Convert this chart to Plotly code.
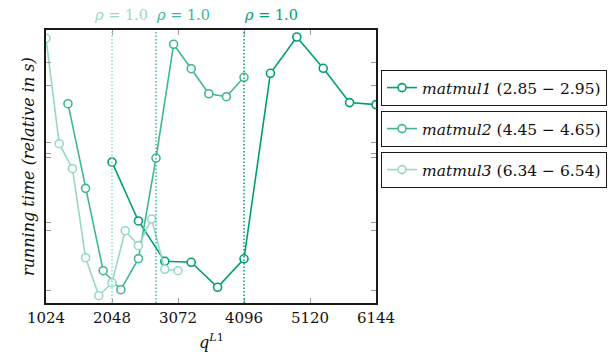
import plotly.graph_objects as go

# ---- data ----
q1 = [2048, 2458, 2867, 3277, 3686, 4096, 4506, 4915, 5325, 5734, 6144]
t1 = [2.9000, 2.8765, 2.8604, 2.8600, 2.8500, 2.8614, 2.9355, 2.9500, 2.9375, 2.9238, 2.9230]

q2 = [1365, 1638, 1911, 2185, 2458, 2731, 3004, 3277, 3550, 3823, 4096]
t2 = [4.6016, 4.5326, 4.4655, 4.4500, 4.4753, 4.5573, 4.6500, 4.6301, 4.6097, 4.6073, 4.6231]

q3 = [1024, 1229, 1434, 1638, 1843, 2048, 2253, 2458, 2662, 2867, 3072]
t3 = [6.5400, 6.4581, 6.4387, 6.3695, 6.3400, 6.3501, 6.3905, 6.3789, 6.3996, 6.3605, 6.3594]

names = ["<i>matmul1</i> (2.85 − 2.95)",
         "<i>matmul2</i> (4.45 − 4.65)",
         "<i>matmul3</i> (6.34 − 6.54)"]
rho_q = [4096, 2731, 2048]          # q where rho reaches 1.0, per series
rho_label = "<i>ρ</i> = 1.0"
x_ticks = [1024, 2048, 3072, 4096, 5120, 6144]

# y ranges of the three stacked (hidden) axes and their tick marks
y_ranges = [[2.84373, 2.95280], [4.43916, 4.66165], [6.33433, 6.54645]]
y_ticks = [[2.8760, 2.9079, 2.9399], [4.4981, 4.5579, 4.6168], [6.3442, 6.4506]]

colors = ["#009E73", "#40B696", "#99D8C6"]
FONT = "DejaVu Serif"

fig = go.Figure()
series = [(q1, t1), (q2, t2), (q3, t3)]
for i, (q, t) in enumerate(series):
    fig.add_trace(go.Scatter(
        x=q, y=t, mode="lines+markers", name=names[i],
        line=dict(color=colors[i], width=1.6),
        marker=dict(symbol="circle", size=8, color="white",
                    line=dict(color=colors[i], width=1.6)),
        yaxis="y" if i == 0 else f"y{i+1}",
        legend="legend" if i == 0 else f"legend{i+1}",
        showlegend=True,
    ))

# vertical dotted rho lines + labels
shifts = [-2, -2, -20]
for i, xq in enumerate(rho_q):
    fig.add_shape(type="line", xref="x", yref="paper", x0=xq, x1=xq, y0=0, y1=1,
                  line=dict(color=colors[i], width=1.5, dash="1.5px,2px"))
    fig.add_annotation(x=xq, y=1.055, xref="x", yref="paper", text=rho_label,
                       showarrow=False, xanchor="left", yanchor="middle",
                       xshift=shifts[i],
                       font=dict(family=FONT, size=14.5, color=colors[i]))

# axis titles
fig.add_annotation(x=-0.088, y=0.5, xref="paper", yref="paper",
                   text="<i>running time (relative in s)</i>", textangle=-90,
                   showarrow=False, font=dict(family=FONT, size=16, color="#111"))
fig.add_annotation(x=0.5, y=-0.14, xref="paper", yref="paper",
                   text="<i>q</i><sup><i>L</i>1</sup>", yanchor="middle",
                   showarrow=False, font=dict(family=FONT, size=16, color="#111"))

axis_line = dict(showline=True, linecolor="#1a1a1a", linewidth=2, showgrid=False,
                 zeroline=False)
fig.update_layout(
    width=614, height=354,
    margin=dict(l=46, r=238, t=30, b=51, autoexpand=False),
    plot_bgcolor="white", paper_bgcolor="white",
    font=dict(family=FONT, size=15, color="#111"),
    xaxis=dict(range=[1024, 6144], tickvals=x_ticks, ticktext=[str(v) for v in x_ticks],
               ticks="inside", ticklen=5, tickcolor="#999", tickwidth=1,
               mirror="ticks", automargin=False, **axis_line),
    yaxis=dict(range=y_ranges[0], tickvals=y_ticks[0], showticklabels=False,
               ticks="inside", ticklen=5, tickcolor="#999", tickwidth=1,
               mirror="ticks", automargin=False, **axis_line),
    yaxis2=dict(range=y_ranges[1], tickvals=y_ticks[1], showticklabels=False,
                overlaying="y", anchor="x", side="left",
                ticks="inside", ticklen=5, tickcolor="#999", tickwidth=1,
                mirror="ticks", automargin=False, **axis_line),
    yaxis3=dict(range=y_ranges[2], tickvals=y_ticks[2], showticklabels=False,
                overlaying="y", anchor="x", side="left",
                ticks="inside", ticklen=5, tickcolor="#999", tickwidth=1,
                mirror="ticks", automargin=False, **axis_line),
)

leg_common = dict(xref="container", yref="container", xanchor="left", yanchor="top",
                  bordercolor="#1a1a1a", borderwidth=1, bgcolor="white",
                  font=dict(family=FONT, size=15.5, color="#111"),
                  itemwidth=30, tracegroupgap=0)
tops = [70, 111, 152]
fig.update_layout(
    legend=dict(x=381/614, y=1 - tops[0]/354, **leg_common),
    legend2=dict(x=381/614, y=1 - tops[1]/354, **leg_common),
    legend3=dict(x=381/614, y=1 - tops[2]/354, **leg_common),
)

fig.write_html("out.html")
